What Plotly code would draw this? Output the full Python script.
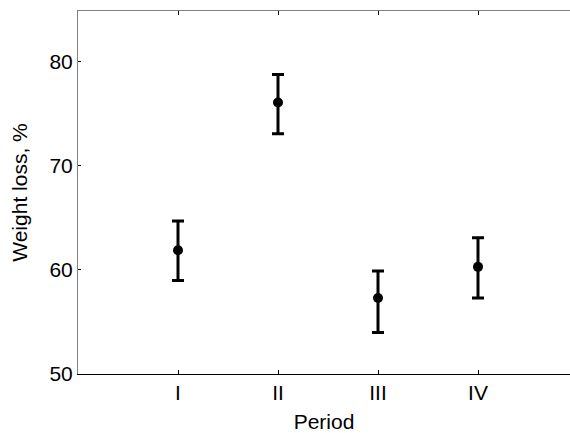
import plotly.graph_objects as go

periods = ["I", "II", "III", "IV"]
x_pos = [1, 2, 3, 4]
weight_loss = [61.9, 76.1, 57.3, 60.3]
err_upper = [2.8, 2.7, 2.6, 2.8]
err_lower = [2.9, 3.0, 3.3, 3.0]

FONT = "Liberation Sans, Arial, sans-serif"

fig = go.Figure()
fig.add_trace(go.Scatter(
    x=x_pos, y=weight_loss, mode="markers",
    marker=dict(color="black", size=10),
    error_y=dict(type="data", symmetric=False, array=err_upper, arrayminus=err_lower,
                 color="black", thickness=3, width=6),
    showlegend=False,
))
# invisible trace to activate top axis
fig.add_trace(go.Scatter(x=[None], y=[None], xaxis="x2", showlegend=False))

fig.update_layout(
    width=570, height=433,
    margin=dict(l=78, r=0, t=11, b=59),
    plot_bgcolor="white", paper_bgcolor="white",
    font=dict(family=FONT, size=21, color="black"),
    xaxis=dict(
        range=[0, 4.92], tickvals=x_pos, ticktext=periods,
        ticks="inside", ticklen=4, tickcolor="black", tickwidth=1,
        showline=True, linecolor="black", linewidth=1,
        showgrid=False, zeroline=False,
        title=dict(text="Period", standoff=12, font=dict(size=21)),
        tickfont=dict(size=21),
    ),
    xaxis2=dict(
        overlaying="x", side="top", range=[0, 4.92], tickvals=x_pos,
        showticklabels=False, ticks="inside", ticklen=4, tickcolor="black",
        showline=True, linecolor="gray", linewidth=1,
        showgrid=False, zeroline=False,
    ),
    yaxis=dict(
        range=[50, 84.9], tickvals=[50, 60, 70, 80],
        ticks="inside", ticklen=3, tickcolor="black",
        showline=True, linecolor="gray", linewidth=1,
        showgrid=False, zeroline=False,
        title=dict(text="Weight loss, %", standoff=16, font=dict(size=21)),
        tickfont=dict(size=21),
    ),
)

fig.write_html("out.html")
